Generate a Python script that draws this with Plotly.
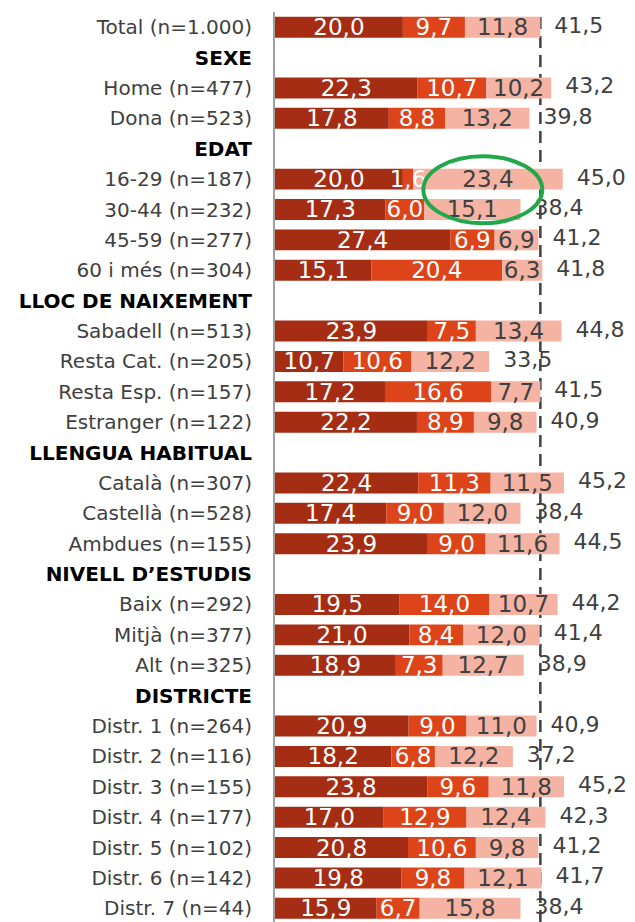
import plotly.graph_objects as go

# files (None = capçalera de secció, sense barra)
labels = [
    "Total (n=1.000)", "SEXE", "Home (n=477)", "Dona (n=523)",
    "EDAT", "16-29 (n=187)", "30-44 (n=232)", "45-59 (n=277)", "60 i més (n=304)",
    "LLOC DE NAIXEMENT", "Sabadell (n=513)", "Resta Cat. (n=205)", "Resta Esp. (n=157)", "Estranger (n=122)",
    "LLENGUA HABITUAL", "Català (n=307)", "Castellà (n=528)", "Ambdues (n=155)",
    "NIVELL D’ESTUDIS", "Baix (n=292)", "Mitjà (n=377)", "Alt (n=325)",
    "DISTRICTE", "Distr. 1 (n=264)", "Distr. 2 (n=116)", "Distr. 3 (n=155)", "Distr. 4 (n=177)",
    "Distr. 5 (n=102)", "Distr. 6 (n=142)", "Distr. 7 (n=44)",
]
headers = ["SEXE", "EDAT", "LLOC DE NAIXEMENT", "LLENGUA HABITUAL", "NIVELL D’ESTUDIS", "DISTRICTE"]

seg1 = [20.0, None, 22.3, 17.8,
        None, 20.0, 17.3, 27.4, 15.1,
        None, 23.9, 10.7, 17.2, 22.2,
        None, 22.4, 17.4, 23.9,
        None, 19.5, 21.0, 18.9,
        None, 20.9, 18.2, 23.8, 17.0, 20.8, 19.8, 15.9]
seg2 = [9.7, None, 10.7, 8.8,
        None, 1.6, 6.0, 6.9, 20.4,
        None, 7.5, 10.6, 16.6, 8.9,
        None, 11.3, 9.0, 9.0,
        None, 14.0, 8.4, 7.3,
        None, 9.0, 6.8, 9.6, 12.9, 10.6, 9.8, 6.7]
seg3 = [11.8, None, 10.2, 13.2,
        None, 23.4, 15.1, 6.9, 6.3,
        None, 13.4, 12.2, 7.7, 9.8,
        None, 11.5, 12.0, 11.6,
        None, 10.7, 12.0, 12.7,
        None, 11.0, 12.2, 11.8, 12.4, 9.8, 12.1, 15.8]
totals = [41.5, None, 43.2, 39.8,
          None, 45.0, 38.4, 41.2, 41.8,
          None, 44.8, 33.5, 41.5, 40.9,
          None, 45.2, 38.4, 44.5,
          None, 44.2, 41.4, 38.9,
          None, 40.9, 37.2, 45.2, 42.3, 41.2, 41.7, 38.4]

total_ref = 41.5

colors = ["#a52d14", "#de441a", "#f4b3a3"]
text_colors = ["white", "white", "#404040"]


def fmt(v, pad=""):
    return "" if v is None else pad + f"{v:.1f}".replace(".", ",")


def add(a, b):
    return [None if x is None else x + y for x, y in zip(a, b)]


ticktext = [f"<b><span style='color:black'>{l}</span></b>" if l in headers else l for l in labels]

# bases explícites: el segment central es dibuixa l'últim perquè "1,6" no quedi tapat
zeros = [None if v is None else 0 for v in seg1]
segs = [seg1, seg2, seg3]
bases = [zeros, seg1, add(seg1, seg2)]

fig = go.Figure()
for i in [0, 2, 1]:
    fig.add_trace(go.Bar(
        y=labels, x=segs[i], base=bases[i], orientation="h",
        marker=dict(color=colors[i], line=dict(width=0)),
        text=[fmt(v) for v in segs[i]],
        textposition="inside", insidetextanchor="middle",
        constraintext="none", textangle=0,
        textfont=dict(color=text_colors[i], size=23),
        width=0.69, showlegend=False, hoverinfo="skip",
    ))

fig.add_trace(go.Scatter(
    y=labels, x=totals, mode="text",
    text=[fmt(t, "\u00a0\u00a0") for t in totals],
    textposition="middle right",
    textfont=dict(color="#404040", size=22),
    cliponaxis=False,
    showlegend=False, hoverinfo="skip",
))

# línia del total
fig.add_vline(x=total_ref, line=dict(color="#404040", width=2.5, dash="12px,7px"), layer="below")

# el·lipse verda
fig.add_shape(type="circle", xref="x", yref="y", x0=23.2, x1=41.8, y0=4.25, y1=6.45,
              line=dict(color="#22a84a", width=4))

fig.update_layout(
    width=635, height=922,
    margin=dict(l=275, r=0, t=12, b=0),
    barmode="overlay",
    plot_bgcolor="white", paper_bgcolor="white",
    font=dict(family="DejaVu Sans", color="#404040", size=20),
    uniformtext=dict(minsize=23, mode="show"),
    xaxis=dict(range=[0, 56.3], visible=False, showgrid=False, zeroline=False),
    yaxis=dict(
        categoryorder="array", categoryarray=labels, autorange=False,
        range=[29.45, -0.5], automargin=False,
        tickmode="array", tickvals=labels, ticktext=ticktext,
        showline=True, linecolor="#a0a0a0", linewidth=2,
        ticks="", showgrid=False, ticklabelstandoff=17,
        tickfont=dict(size=20, color="#404040"),
    ),
)

fig.write_html("out.html", config={"displayModeBar": False},
               post_script="document.body.style.margin='0';")
